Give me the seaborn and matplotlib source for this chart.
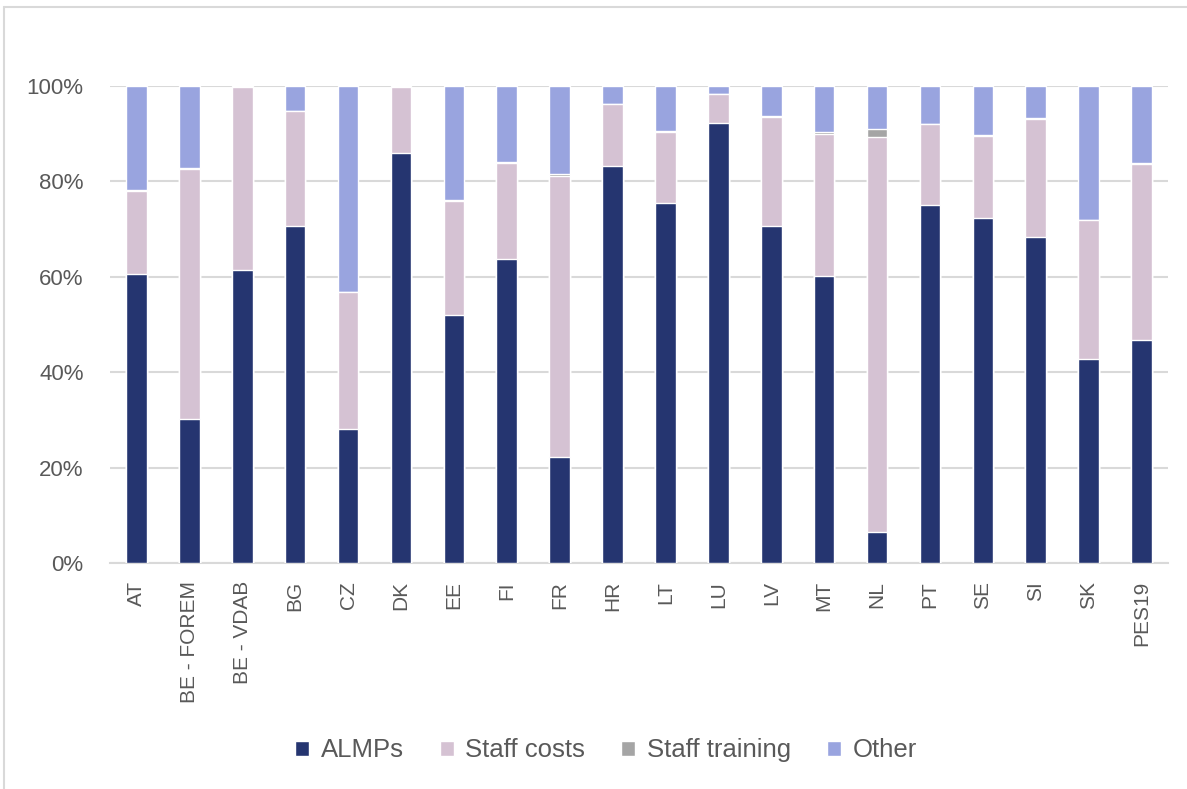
import matplotlib.pyplot as plt
import numpy as np
import seaborn as sns

# Share of PES budget by item (%)
countries = ['AT', 'BE - FOREM', 'BE - VDAB', 'BG', 'CZ', 'DK', 'EE', 'FI', 'FR', 'HR',
             'LT', 'LU', 'LV', 'MT', 'NL', 'PT', 'SE', 'SI', 'SK', 'PES19']
almps = [60.5, 30.1, 61.5, 70.7, 28.0, 86.0, 51.9, 63.7, 22.3, 83.3,
         75.5, 92.2, 70.7, 60.1, 6.6, 75.0, 72.3, 68.3, 42.7, 46.7]
staff_costs = [17.5, 52.4, 38.2, 24.1, 28.9, 13.7, 23.9, 20.1, 58.8, 12.9,
               14.8, 6.1, 22.8, 29.9, 82.8, 17.1, 17.2, 24.7, 29.3, 36.9]
staff_training = [0.2, 0.3, 0.0, 0.0, 0.0, 0.0, 0.3, 0.2, 0.4, 0.0,
                  0.3, 0.0, 0.2, 0.4, 1.6, 0.0, 0.2, 0.2, 0.0, 0.2]
other = [21.8, 17.2, 0.3, 5.2, 43.1, 0.3, 23.9, 16.0, 18.5, 3.8,
         9.4, 1.7, 6.3, 9.6, 9.0, 7.9, 10.3, 6.8, 28.0, 16.2]

series = ['ALMPs', 'Staff costs', 'Staff training', 'Other']
colors = ['#253570', '#D5C2D3', '#A5A5A5', '#99A4DF']

sns.set_theme(style='white')
plt.rcParams['font.family'] = ['Liberation Sans', 'DejaVu Sans']

fig = plt.figure(figsize=(11.87, 7.89), dpi=100)
ax = fig.add_axes([0.0927, 0.2864, 0.8913, 0.6046])

# stacked bars: draw cumulative totals from the top layer down
layers = np.array([almps, staff_costs, staff_training, other])
cumulative = np.cumsum(layers, axis=0)
for i in range(len(series) - 1, -1, -1):
    sns.barplot(x=countries, y=cumulative[i], color=colors[i], saturation=1,
                width=0.39, errorbar=None, ax=ax, label=series[i], zorder=3)

ax.set_ylim(0, 100)
ax.set_xlim(-0.5, len(countries) - 0.5)
ax.set_yticks(range(0, 101, 20))
ax.set_yticklabels([f'{v}%' for v in range(0, 101, 20)])
ax.yaxis.grid(True, color='#D9D9D9', linewidth=1.5, zorder=0)
ax.set_axisbelow(True)
for side in ['top', 'right', 'left']:
    ax.spines[side].set_visible(False)
ax.spines['bottom'].set_color('#D9D9D9')
ax.spines['bottom'].set_linewidth(1.5)
ax.tick_params(axis='y', length=0, pad=19, labelsize=16, labelcolor='#595959')
ax.tick_params(axis='x', length=0, pad=13, labelsize=15, labelcolor='#595959', rotation=90)
ax.set_xlabel('')
ax.set_ylabel('')

# legend in the original order
handles, labels = ax.get_legend_handles_labels()
order = [labels.index(s) for s in series]
if ax.legend_:
    ax.legend_.remove()
fig.legend([handles[i] for i in order], series, loc='center', bbox_to_anchor=(0.5106, 0.049),
           ncol=4, frameon=False, fontsize=18.5, labelcolor='#595959',
           handlelength=0.55, handleheight=0.55, handletextpad=0.45, columnspacing=1.4)

# chart border (left and top edges visible in the original)
fig.add_artist(plt.Line2D([0.003, 0.003], [0.0, 0.991], color='#D9D9D9', linewidth=1.5))
fig.add_artist(plt.Line2D([0.003, 1.0], [0.991, 0.991], color='#D9D9D9', linewidth=1.5))

fig.savefig('out.png', dpi=100)
